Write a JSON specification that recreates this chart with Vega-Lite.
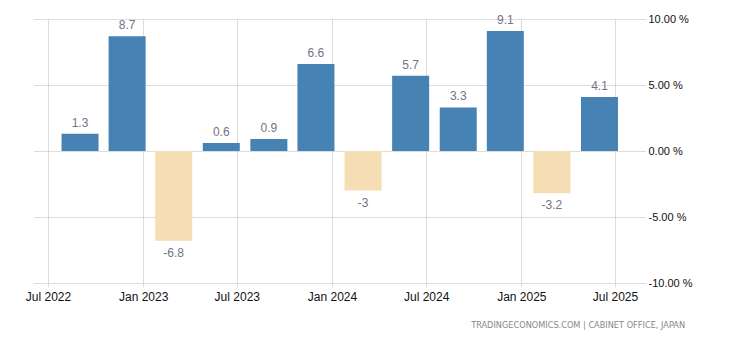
{
  "$schema": "https://vega.github.io/schema/vega-lite/v6.json",
  "autosize": {"type": "none"},
  "width": 611,
  "height": 264,
  "padding": {"left": 34, "top": 19, "right": 85, "bottom": 57},
  "config": {
    "view": {"stroke": null},
    "font": "Liberation Sans",
    "locale": {"number": {"decimal": ".", "thousands": ",", "grouping": [3], "currency": ["$", ""], "minus": "-"}}
  },
  "title": {
    "text": "TRADINGECONOMICS.COM  |  CABINET OFFICE, JAPAN",
    "orient": "bottom",
    "anchor": "end",
    "font": "DejaVu Sans",
    "fontSize": 8.2,
    "fontWeight": "normal",
    "color": "#888888",
    "dx": -7,
    "offset": 20
  },
  "data": {
    "values": [
      {"date": "2022-09-01", "value": 1.3},
      {"date": "2022-12-01", "value": 8.7},
      {"date": "2023-03-01", "value": -6.8},
      {"date": "2023-06-01", "value": 0.6},
      {"date": "2023-09-01", "value": 0.9},
      {"date": "2023-12-01", "value": 6.6},
      {"date": "2024-03-01", "value": -3},
      {"date": "2024-06-01", "value": 5.7},
      {"date": "2024-09-01", "value": 3.3},
      {"date": "2024-12-01", "value": 9.1},
      {"date": "2025-03-01", "value": -3.2},
      {"date": "2025-06-01", "value": 4.1}
    ]
  },
  "encoding": {
    "x": {
      "field": "date",
      "type": "temporal",
      "scale": {"domain": [{"year": 2022, "month": 6, "date": 4}, {"year": 2025, "month": 8, "date": 28}], "padding": 0},
      "axis": {
        "title": null,
        "values": [
          {"year": 2022, "month": 7, "date": 1},
          {"year": 2023, "month": 1, "date": 1},
          {"year": 2023, "month": 7, "date": 1},
          {"year": 2024, "month": 1, "date": 1},
          {"year": 2024, "month": 7, "date": 1},
          {"year": 2025, "month": 1, "date": 1},
          {"year": 2025, "month": 7, "date": 1}
        ],
        "format": "%b %Y",
        "labelFontSize": 12,
        "labelColor": "#111111",
        "labelPadding": 4,
        "domain": false,
        "ticks": true,
        "tickSize": 4,
        "tickColor": "#bbbbbb",
        "tickDash": [1, 1],
        "grid": true,
        "gridColor": "#bbbbbb",
        "gridDash": [1, 1],
        "labelFlush": false
      }
    },
    "y": {
      "field": "value",
      "type": "quantitative",
      "scale": {"domain": [-10, 10], "nice": false},
      "axis": {
        "title": null,
        "orient": "right",
        "values": [-10, -5, 0, 5, 10],
        "labelExpr": "format(datum.value, '.2f') + ' %'",
        "labelFontSize": 11,
        "labelColor": "#111111",
        "labelPadding": 3,
        "domain": false,
        "ticks": false,
        "grid": true,
        "gridColor": "#bbbbbb",
        "gridDash": [1, 1]
      }
    }
  },
  "layer": [
    {
      "mark": {"type": "bar", "size": 37},
      "encoding": {
        "color": {"condition": {"test": "datum.value < 0", "value": "#F5DEB3"}, "value": "#4682B4"}
      }
    },
    {
      "transform": [{"filter": "datum.value >= 0"}],
      "mark": {"type": "text", "baseline": "bottom", "dy": -4, "fontSize": 12, "color": "#737386"},
      "encoding": {"text": {"field": "value", "type": "quantitative"}}
    },
    {
      "transform": [{"filter": "datum.value < 0"}],
      "mark": {"type": "text", "baseline": "top", "dy": 7, "fontSize": 12, "color": "#737386"},
      "encoding": {"text": {"field": "value", "type": "quantitative"}}
    }
  ]
}
